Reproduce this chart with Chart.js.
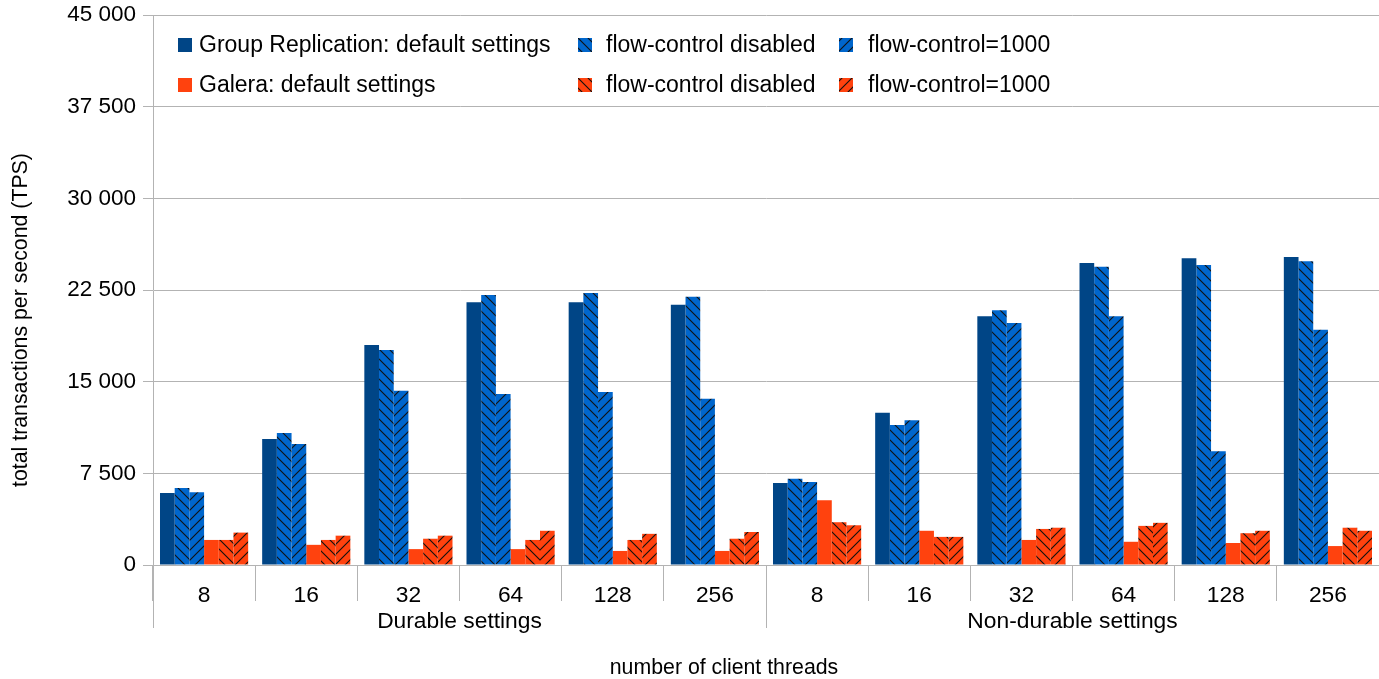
<!DOCTYPE html>
<html>
<head>
<meta charset="utf-8">
<script src="https://cdn.jsdelivr.net/npm/chart.js@4.4.1/dist/chart.umd.min.js"></script>
<style>
  html, body { margin: 0; padding: 0; background: #fff; }
  canvas { display: block; }
</style>
</head>
<body>
<canvas id="tpsChart" width="1379" height="679"></canvas>
<script>
// categorias: hilos de cliente, agrupados por configuración
const threads = ['8', '16', '32', '64', '128', '256', '8', '16', '32', '64', '128', '256'];
const groups = ['Durable settings', 'Non-durable settings'];
const groupSize = 6;

// valores (TPS)
const grDefault        = [5900, 10300, 18000, 21500, 21500, 21300, 6700, 12450, 20350, 24700, 25100, 25200];
const grFcDisabled     = [6300, 10800, 17600, 22100, 22250, 21950, 7050, 11450, 20850, 24400, 24550, 24850];
const grFc1000         = [5950, 9900, 14250, 14000, 14150, 13600, 6800, 11850, 19800, 20350, 9300, 19250];
const galeraDefault    = [2050, 1650, 1300, 1300, 1150, 1150, 5300, 2800, 2050, 1900, 1800, 1550];
const galeraFcDisabled = [2050, 2050, 2150, 2050, 2050, 2150, 3500, 2300, 2950, 3200, 2600, 3050];
const galeraFc1000     = [2650, 2400, 2400, 2800, 2550, 2700, 3250, 2300, 3050, 3450, 2800, 2800];

const yTicks = [0, 7500, 15000, 22500, 30000, 37500, 45000];

const FONT = "'Liberation Sans', Arial, sans-serif";
const GRID = '#b3b3b3';
const DARK_BLUE = '#004586';
const BLUE = '#0066cc';
const ORANGE = '#ff420e';

// relleno rayado tipo LibreOffice
function hatch(color, dir) {
    const c = document.createElement('canvas');
    c.width = 10;
    c.height = 10;
    const g = c.getContext('2d');
    g.fillStyle = color;
    g.fillRect(0, 0, 10, 10);
    g.strokeStyle = '#111';
    g.lineWidth = 1.1;
    g.beginPath();
    if (dir === '\\') {
        g.moveTo(-5, -5); g.lineTo(15, 15);
        g.moveTo(-5, 5); g.lineTo(5, 15);
        g.moveTo(5, -5); g.lineTo(15, 5);
    } else {
        g.moveTo(-5, 15); g.lineTo(15, -5);
        g.moveTo(-5, 5); g.lineTo(5, -5);
        g.moveTo(5, 15); g.lineTo(15, 5);
    }
    g.stroke();
    return g.createPattern(c, 'repeat');
}

function formatThousands(v) {
    return String(v).replace(/\B(?=(\d{3})+(?!\d))/g, ' ');
}

// leyenda, títulos y etiquetas de grupo
const extrasPlugin = {
    id: 'extras',
    afterDraw(chart) {
        const ctx = chart.ctx;
        const x = chart.scales.x;
        const area = chart.chartArea;
        ctx.save();

        // separadores largos y etiquetas de grupo
        ctx.strokeStyle = GRID;
        ctx.lineWidth = 1;
        ctx.fillStyle = '#000';
        ctx.font = '22.8px ' + FONT;
        ctx.textAlign = 'center';
        ctx.textBaseline = 'middle';
        const half = (x.getPixelForValue(1) - x.getPixelForValue(0)) / 2;
        groups.forEach((name, gi) => {
            const first = x.getPixelForValue(gi * groupSize) - half;
            const last = x.getPixelForValue(gi * groupSize + groupSize - 1) + half;
            [first, last].forEach(px => {
                const sx = Math.round(px) + 0.5;
                ctx.beginPath();
                ctx.moveTo(sx, area.bottom);
                ctx.lineTo(sx, area.bottom + 63);
                ctx.stroke();
            });
            ctx.fillText(name, (first + last) / 2, 622);
        });

        // títulos de ejes
        ctx.font = '21.3px ' + FONT;
        ctx.fillText('number of client threads', 724, 668);
        ctx.save();
        ctx.translate(21, 320);
        ctx.rotate(-Math.PI / 2);
        ctx.fillText('total transactions per second (TPS)', 0, 0);
        ctx.restore();

        // leyenda en 3 columnas x 2 filas
        const boxX = [178, 578, 839];
        const textX = [199, 606, 868];
        const rowY = [45, 85];
        ctx.font = '23px ' + FONT;
        ctx.textAlign = 'left';
        chart.data.datasets.forEach((ds, i) => {
            const row = Math.floor(i / 3);
            const col = i % 3;
            ctx.fillStyle = ds.backgroundColor;
            ctx.fillRect(boxX[col], rowY[row] - 7, 14, 14);
            ctx.fillStyle = '#000';
            ctx.fillText(ds.label, textX[col], rowY[row] + 1);
        });

        ctx.restore();
    }
};

const datasets = [
    { label: 'Group Replication: default settings', data: grDefault, backgroundColor: DARK_BLUE },
    { label: 'flow-control disabled', data: grFcDisabled, backgroundColor: hatch(BLUE, '\\') },
    { label: 'flow-control=1000', data: grFc1000, backgroundColor: hatch(BLUE, '/') },
    { label: 'Galera: default settings', data: galeraDefault, backgroundColor: ORANGE },
    { label: 'flow-control disabled', data: galeraFcDisabled, backgroundColor: hatch(ORANGE, '\\') },
    { label: 'flow-control=1000', data: galeraFc1000, backgroundColor: hatch(ORANGE, '/') }
];

new Chart(document.getElementById('tpsChart').getContext('2d'), {
    type: 'bar',
    data: {
        labels: threads,
        datasets: datasets.map(d => Object.assign({ borderWidth: 0 }, d))
    },
    options: {
        responsive: false,
        animation: false,
        layout: { padding: { top: 15, left: 0, right: 0, bottom: 0 } },
        datasets: {
            bar: { categoryPercentage: 0.863, barPercentage: 1 }
        },
        plugins: {
            legend: { display: false },
            tooltip: { enabled: false }
        },
        scales: {
            x: {
                offset: true,
                grid: {
                    offset: true,
                    drawOnChartArea: false,
                    tickLength: 36,
                    color: GRID
                },
                border: { color: GRID },
                ticks: {
                    padding: -19,
                    color: '#000',
                    font: { family: FONT, size: 22.8 },
                    maxRotation: 0,
                    autoSkip: false
                },
                afterFit(scale) {
                    scale.height = 114;
                    scale.paddingLeft = 0;
                    scale.paddingRight = 0;
                }
            },
            y: {
                min: 0,
                max: 45000,
                afterBuildTicks(scale) {
                    scale.ticks = yTicks.map(v => ({ value: v }));
                },
                grid: { color: GRID, tickLength: 10 },
                border: { color: GRID },
                ticks: {
                    padding: 7,
                    color: '#000',
                    font: { family: FONT, size: 22.5 },
                    callback: v => formatThousands(v)
                },
                afterFit(scale) {
                    scale.width = 153;
                    scale.paddingTop = 0;
                    scale.paddingBottom = 0;
                }
            }
        }
    },
    plugins: [extrasPlugin]
});
</script>
</body>
</html>
